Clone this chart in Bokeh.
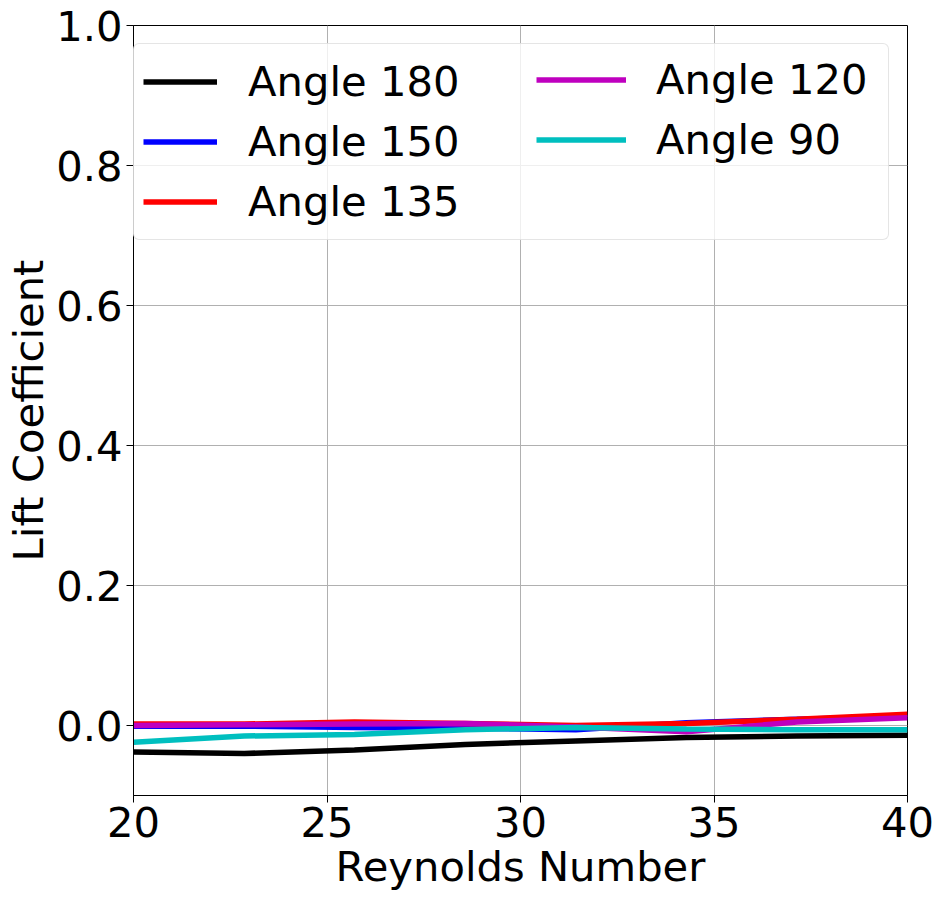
from bokeh.plotting import figure
from bokeh.models import Legend, LegendItem, FixedTicker, Range1d, NumeralTickFormatter
from bokeh.embed import file_html
from bokeh.resources import INLINE

reynolds = [20, 22.86, 25.71, 28.57, 31.43, 34.29, 37.14, 40]
angle_180 = [-0.038, -0.040, -0.035, -0.027, -0.022, -0.017, -0.015, -0.014]
angle_150 = [-0.001, -0.001, -0.003, -0.004, -0.006, 0.004, 0.009, 0.013]
angle_135 = [0.002, 0.002, 0.005, 0.003, 0.000, 0.003, 0.009, 0.016]
angle_120 = [0.000, 0.001, 0.002, 0.003, -0.002, -0.009, 0.005, 0.011]
angle_90 = [-0.024, -0.015, -0.013, -0.006, -0.003, -0.005, -0.006, -0.006]

series = [
    ("Angle 180", angle_180, "#000000"),
    ("Angle 150", angle_150, "#0000ff"),
    ("Angle 135", angle_135, "#ff0000"),
    ("Angle 120", angle_120, "#bf00bf"),
    ("Angle 90", angle_90, "#00bfbf"),
]

x_ticks = [20, 25, 30, 35, 40]
y_ticks = [0.0, 0.2, 0.4, 0.6, 0.8, 1.0]

FONT = "DejaVu Sans"
FS = "41.7px"

p = figure(width=938, height=893, output_backend="svg", toolbar_location=None,
           x_range=Range1d(20, 40), y_range=Range1d(-0.1, 1.0),
           min_border_left=133, min_border_right=31, min_border_top=25, min_border_bottom=98)

p.outline_line_color = "black"
p.outline_line_width = 1
p.background_fill_color = "white"
p.border_fill_color = "white"

renderers = []
for name, vals, col in series:
    r = p.line(reynolds, vals, line_color=col, line_width=5.5)
    renderers.append((name, r))

for ax in (p.xaxis[0], p.yaxis[0]):
    ax.major_label_text_font = FONT
    ax.major_label_text_font_size = FS
    ax.major_label_text_color = "black"
    ax.axis_label_text_font = FONT
    ax.axis_label_text_font_size = FS
    ax.axis_label_text_font_style = "normal"
    ax.axis_label_text_color = "black"
    ax.axis_line_color = "black"
    ax.major_tick_line_color = "black"
    ax.major_tick_in = 0
    ax.major_tick_out = 7
    ax.minor_tick_line_color = None

p.xaxis.major_label_standoff = 4
p.yaxis.major_label_standoff = 4
p.xaxis.ticker = FixedTicker(ticks=x_ticks)
p.yaxis.ticker = FixedTicker(ticks=y_ticks)
p.yaxis.formatter = NumeralTickFormatter(format="0.0")
p.xaxis.axis_label = "Reynolds Number"
p.yaxis.axis_label = "Lift Coefficient"
p.xaxis.axis_label_standoff = 2
p.yaxis.axis_label_standoff = 0

p.grid.grid_line_color = "#b0b0b0"
p.grid.grid_line_width = 1

common = dict(
    label_text_font=FONT, label_text_font_size=FS, label_text_color="black",
    glyph_height=57, label_height=57,
    spacing=3, padding=9, margin=0,
)

extra = {}
if "border_radius" in Legend.properties():
    extra["border_radius"] = 6

leg1 = Legend(items=[LegendItem(label=n, renderers=[r]) for n, r in renderers[:3]],
              location=(0, 555), label_width=631, glyph_width=74, label_standoff=31,
              border_line_color="#cccccc", border_line_width=1.5,
              background_fill_color="white", background_fill_alpha=0.8,
              **common, **extra)
leg2 = Legend(items=[LegendItem(label=n, renderers=[r]) for n, r in renderers[3:]],
              location=(403, 627), glyph_width=90, label_standoff=30,
              border_line_color=None, background_fill_alpha=0.0,
              **common)
p.add_layout(leg1)
p.add_layout(leg2)

open("out.html", "w").write(file_html(p, INLINE))
